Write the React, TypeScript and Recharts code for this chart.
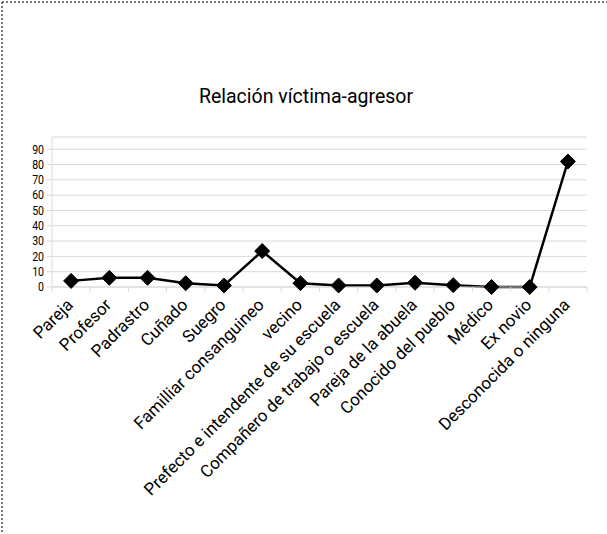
import React from 'react';
import { LineChart, Line, XAxis, YAxis, CartesianGrid } from 'recharts';

const categories = [
  'Pareja',
  'Profesor',
  'Padrastro',
  'Cuñado',
  'Suegro',
  'Familliar consanguineo',
  'vecino',
  'Prefecto e intendente de su escuela',
  'Compañero de trabajo o escuela',
  'Pareja de la abuela',
  'Conocido del pueblo',
  'Médico',
  'Ex novio',
  'Desconocida o ninguna',
];
const values = [4, 6, 6, 2.5, 1, 23.5, 2.5, 1, 1, 2.8, 1.2, 0, 0, 82];
const yTicks = [0, 10, 20, 30, 40, 50, 60, 70, 80, 90];

const data = categories.map((name, i) => ({ name, value: values[i] }));

const FONT = 'Roboto, "DejaVu Sans", sans-serif';
const NARROW = 0.88;
const W = 607;
const H = 534;
const M = { top: 137, right: 20, left: 0, bottom: 0 };
const Y_W = 52;
const STEP = (W - M.left - M.right - Y_W) / categories.length;

function Diamond(props: any) {
  const { cx, cy } = props;
  if (cx == null || cy == null) return null;
  const r = 7.5;
  return (
    <path
      d={`M${cx},${cy - r}L${cx + r},${cy}L${cx},${cy + r}L${cx - r},${cy}Z`}
      fill="#000"
      stroke="#000"
    />
  );
}

function CatTick(props: any) {
  const { x, y, payload, index } = props;
  const ax = x + 3;
  const ay = y + 19;
  return (
    <g>
      <line x1={x - STEP / 2} x2={x - STEP / 2} y1={y} y2={y + 5} stroke="#d9d9d9" />
      {index === categories.length - 1 && (
        <line x1={x + STEP / 2} x2={x + STEP / 2} y1={y} y2={y + 5} stroke="#d9d9d9" />
      )}
      <text
        x={0}
        y={0}
        textAnchor="end"
        transform={`translate(${ax},${ay}) rotate(-45)`}
        fontSize={17}
        fontFamily={FONT}
        fill="#000"
      >
        {payload.value}
      </text>
    </g>
  );
}

function NumTick(props: any) {
  const { x, y, payload } = props;
  return (
    <text
      x={0}
      y={0}
      dy="0.355em"
      textAnchor="end"
      transform={`translate(${x},${y}) scale(${NARROW},1)`}
      fontSize={12}
      fontFamily={FONT}
      fill="#000"
    >
      {payload.value}
    </text>
  );
}

export default function App() {
  return (
    <div style={{ position: 'absolute', left: 0, top: 0, width: W, height: H, background: '#fff' }}>
      <svg width={W} height={H} style={{ position: 'absolute', left: 0, top: 0 }}>
        <line x1={2} y1={2} x2={W} y2={2} stroke="#777" strokeWidth={2} strokeDasharray="2 2" />
        <line x1={2} y1={2} x2={2} y2={H} stroke="#777" strokeWidth={2} strokeDasharray="2 2" />
      </svg>
      <div
        style={{
          position: 'absolute',
          left: 0,
          top: 85,
          width: 612,
          textAlign: 'center',
          fontFamily: FONT,
          fontSize: 19.5,
          lineHeight: '24px',
          color: '#000',
        }}
      >
        Relación víctima-agresor
      </div>
      <div style={{ position: 'absolute', left: 0, top: 0 }}>
        <LineChart width={W} height={H} data={data} margin={M}>
          <CartesianGrid horizontal vertical={false} stroke="#d9d9d9" />
          <XAxis
            dataKey="name"
            interval={0}
            padding={{ left: STEP / 2, right: STEP / 2 }}
            height={H - 287}
            tickSize={0}
            tickMargin={0}
            tickLine={false}
            axisLine={{ stroke: '#d9d9d9' }}
            tick={<CatTick />}
          />
          <YAxis
            width={Y_W}
            domain={[0, 98]}
            ticks={yTicks}
            interval={0}
            tickSize={5}
            tickMargin={3}
            tickLine={{ stroke: '#d9d9d9' }}
            axisLine={{ stroke: '#d9d9d9' }}
            tick={<NumTick />}
          />
          <Line
            dataKey="value"
            stroke="#000"
            strokeWidth={2.5}
            dot={<Diamond />}
            activeDot={false}
            isAnimationActive={false}
          />
        </LineChart>
      </div>
    </div>
  );
}
